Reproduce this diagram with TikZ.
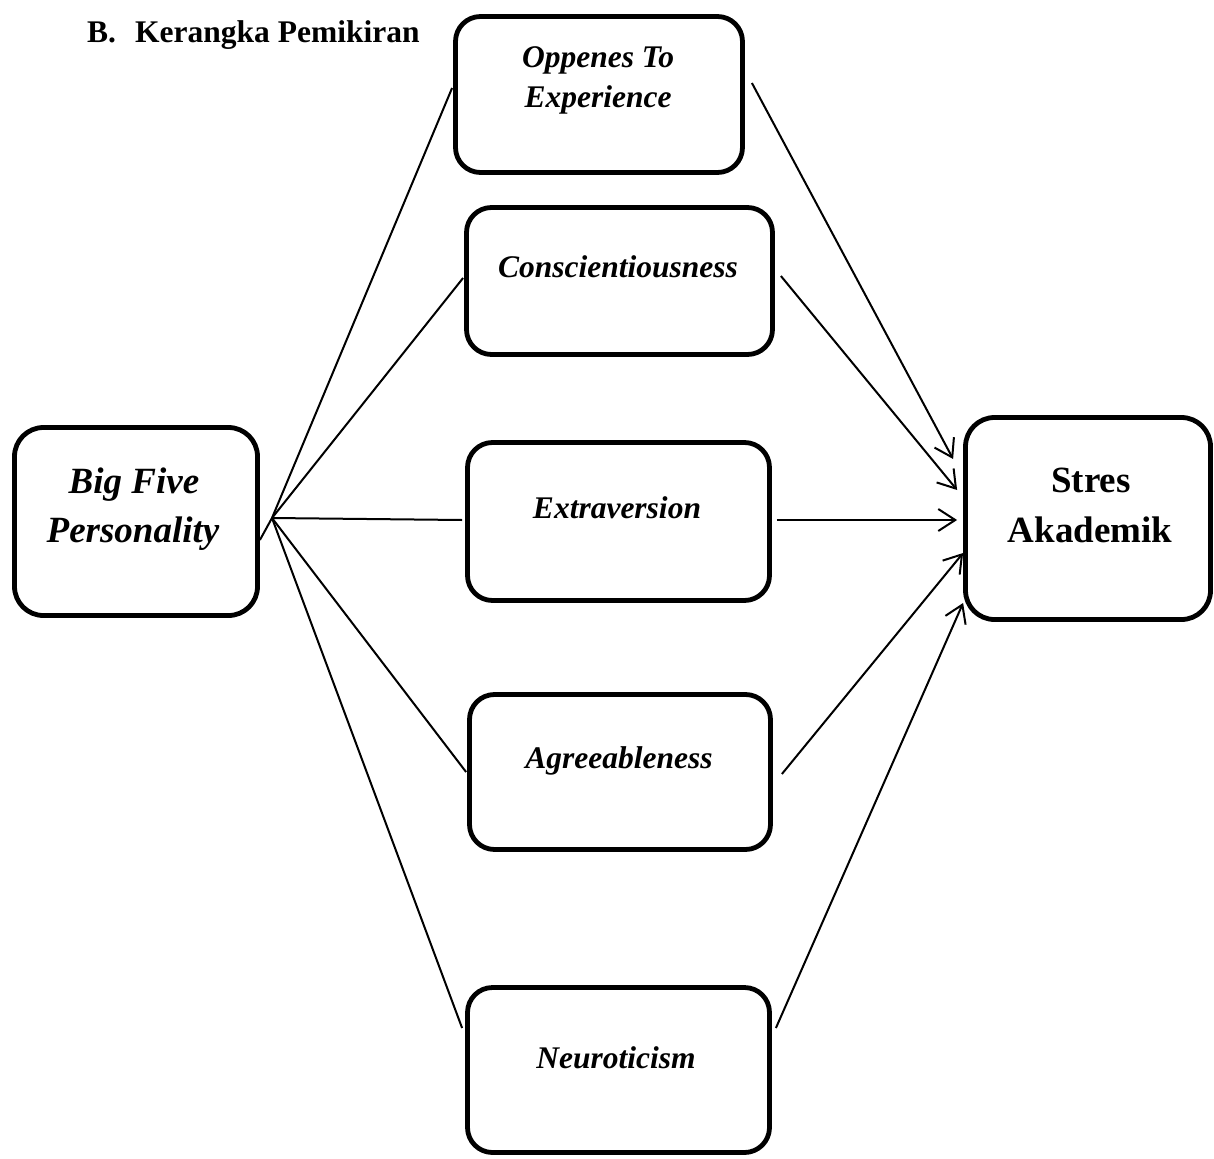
\documentclass[tikz,border=0pt]{standalone}
\usepackage{fontspec}
\setmainfont{Liberation Serif}
\usetikzlibrary{arrows.meta,calc}
\begin{document}
\begin{tikzpicture}[x=1pt,y=-1pt,
  box/.style={draw, line width=4.8pt, rounded corners=25pt, inner sep=0pt},
  conn/.style={line width=2pt},
  arr/.style={conn, -{Straight Barb[length=17pt,width=22pt]}},
  lbl/.style={inner sep=0pt, anchor=base, font=\fontsize{31.5}{38}\selectfont\bfseries\itshape},
  biglbl/.style={inner sep=0pt, anchor=base, font=\fontsize{37}{44}\selectfont\bfseries\itshape},
  stlbl/.style={inner sep=0pt, anchor=base, font=\fontsize{37}{44}\selectfont\bfseries},
  ttl/.style={inner sep=0pt, anchor=base west, font=\fontsize{31.5}{38}\selectfont\bfseries}
]
\useasboundingbox (0,0) rectangle (1214,1158);

% title
\node[ttl] (tb) at (87,43) {B.};
\node[ttl] (tk) at (135,43) {Kerangka Pemikiran};

% boxes
\node[box, minimum width=287pt, minimum height=156pt] (o) at (599,94.5) {};
\node[box, minimum width=306pt, minimum height=147pt] (c) at (619.5,281) {};
\node[box, minimum width=302pt, minimum height=158pt] (e) at (618.5,521.5) {};
\node[box, minimum width=301pt, minimum height=155pt] (a) at (620,772) {};
\node[box, minimum width=302pt, minimum height=165pt] (n) at (618.5,1070) {};
\node[box, rounded corners=29pt, minimum width=243pt, minimum height=188pt] (bf) at (136,521.5) {};
\node[box, rounded corners=29pt, minimum width=245pt, minimum height=202pt] (s) at (1088,518.5) {};

% labels
\node[lbl] (o1) at (598,68) {Oppenes To};
\node[lbl] (o2) at (598,108) {Experience};
\node[lbl] (c1) at (618,277) {Conscientiousness};
\node[lbl] (e1) at (617,518) {Extraversion};
\node[lbl] (a1) at (619,768) {Agreeableness};
\node[lbl] (n1) at (616,1068) {Neuroticism};
\node[biglbl] (bf1) at (134,493) {Big Five};
\node[biglbl] (bf2) at (133,542) {Personality};
\node[stlbl] (s1) at (1091,492) {Stres};
\node[stlbl] (s2) at (1090,542) {Akademik};

% hub
\coordinate (hub) at (272,518);

% left connectors
\draw[conn] ($(bf.east)+(0,18.5)$) -- (hub);
\draw[conn] (hub) -- ($(o.west)+(-1,-6.5)$);
\draw[conn] (hub) -- ($(c.west)+(-1,-3)$);
\draw[conn] (hub) -- ($(e.west)+(-3,-1.5)$);
\draw[conn] (hub) -- ($(a.west)+(-1,0)$);
\draw[conn] (hub) -- ($(n.west)+(-3,-42)$);

% right arrows
\draw[arr] ($(o.east)+(7,-11.5)$) -- ($(s.west)+(-10,-59.5)$);
\draw[arr] ($(c.east)+(6,-5)$) -- ($(s.west)+(-6,-28.5)$);
\draw[arr] ($(e.east)+(5,-1.5)$) -- ($(s.west)+(-6,1.5)$);
\draw[arr] ($(a.east)+(9,2)$) -- ($(s.west)+(0,34.5)$);
\draw[arr] ($(n.east)+(4,-42)$) -- ($(s.west)+(0,84.5)$);
\end{tikzpicture}
\end{document}
